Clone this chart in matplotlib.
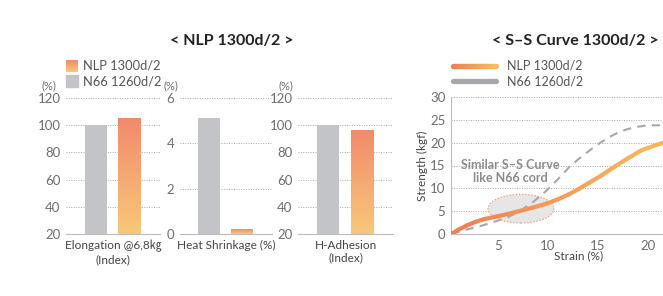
import numpy as np
import matplotlib.pyplot as plt
from matplotlib.collections import LineCollection
from matplotlib.colors import LinearSegmentedColormap
from matplotlib.patches import Ellipse, Rectangle

plt.rcParams['font.family'] = ['Lato', 'Noto Sans CJK KR', 'DejaVu Sans']

# ---- data ----
series = ['NLP 1300d/2', 'N66 1260d/2']
elongation = [100, 105]      # N66, NLP
shrinkage = [5.1, 0.2]
adhesion = [100, 96.5]

strain_nlp = [0.35, 1.0, 1.9, 2.8, 3.7, 5.0, 6.0, 7.1, 8.5, 9.8, 11.0, 12.1,
              13.1, 14.1, 15.4, 16.7, 18.0, 19.4, 21.5]
strength_nlp = [0.0, 0.9, 1.9, 2.7, 3.3, 3.9, 4.4, 5.0, 5.8, 6.6, 7.6, 8.7,
                9.9, 11.2, 12.9, 14.8, 16.6, 18.4, 20.0]
strain_n66 = [0.35, 1.9, 3.5, 4.8, 6.0, 7.1, 8.5, 9.8, 11.0, 12.1, 13.1, 14.1,
              15.1, 16.1, 17.0, 18.0, 19.0, 20.0, 21.5]
strength_n66 = [0.0, 1.0, 1.9, 2.8, 3.7, 4.9, 7.0, 9.4, 12.0, 14.6, 16.5, 18.2,
                19.8, 21.2, 22.2, 23.0, 23.5, 23.8, 23.8]

W, H = 663, 296
GRAY = '#C3C4C8'
TICK = '#6E6E6E'
bar_cmap = LinearSegmentedColormap.from_list('bar', ['#F8C878', '#F28A6D'])
line_cmap = LinearSegmentedColormap.from_list('line', ['#F07E55', '#F9BC5C'])


def px(x0, y0, x1, y1):
    return [x0 / W, 1 - y1 / H, (x1 - x0) / W, (y1 - y0) / H]


fig = plt.figure(figsize=(W / 100, H / 100), dpi=100)

# overlay in pixel coords for titles / legends
lax = fig.add_axes([0, 0, 1, 1])
lax.axis('off')

lax.text(232, 41, '< NLP 1300d/2 >', ha='center', va='center',
         fontsize=11.5, fontweight='bold', color='#222222')
lax.text(575, 41, '< S–S Curve 1300d/2 >', ha='center', va='center',
         fontsize=11.5, fontweight='bold', color='#222222')

# bar legend
lax.imshow(np.linspace(1, 0, 50).reshape(-1, 1), cmap=bar_cmap,
           extent=[66, 78, 72, 60], aspect='auto')
lax.add_patch(Rectangle((66, 75), 12, 12, color=GRAY))
lax.text(83, 66, series[0], va='center', fontsize=9.3, color='#555555')
lax.text(83, 81, series[1], va='center', fontsize=9.3, color='#555555')

# curve legend
xs = np.linspace(453, 496, 30)
segs = [[(xs[i], 66), (xs[i + 1], 66)] for i in range(len(xs) - 1)]
lax.add_collection(LineCollection(segs, colors=line_cmap(np.linspace(0, 1, len(segs))),
                                  lw=3.8, capstyle='round'))
lax.plot([453, 496], [81, 81], color='#A8A8AC', lw=3.8, solid_capstyle='round')
lax.text(507, 66, series[0], va='center', fontsize=9, color='#555555')
lax.text(507, 81, series[1], va='center', fontsize=9, color='#555555')
lax.set_xlim(0, W)
lax.set_ylim(H, 0)


def grad_bar(ax, bar):
    x, y = bar.get_x(), bar.get_y()
    w, h = bar.get_width(), bar.get_height()
    im = ax.imshow(np.linspace(0, 1, 100).reshape(-1, 1), cmap=bar_cmap, origin='lower',
                   extent=[x, x + w, y, y + h], aspect='auto', zorder=3)
    im.set_clip_path(bar)


def bar_panel(rect, vals, ylim, ticks, label, pct_x):
    ax = fig.add_axes(rect)
    ax.patch.set_alpha(0)
    bars = ax.bar([0, 1], [v - ylim[0] for v in vals], bottom=ylim[0], width=0.67,
                  color=[GRAY, 'none'], zorder=3)
    grad_bar(ax, bars[1])
    ax.set_xlim(-0.9, 1.93)
    ax.set_ylim(*ylim)
    ax.set_yticks(ticks)
    ax.set_xticks([])
    ax.grid(axis='y', ls=(0, (1, 1.5)), color='#A8A8A8', lw=0.7)
    for s in ['top', 'right', 'left']:
        ax.spines[s].set_visible(False)
    ax.spines['bottom'].set_color('#BBBBBB')
    ax.tick_params(axis='y', length=0, labelsize=9.5, labelcolor=TICK, pad=4)
    ax.text(0.5, -0.045, label, transform=ax.transAxes, ha='center', va='top',
            fontsize=8.5, color='#444444', linespacing=1.15)
    ax.text(pct_x, 1.05, '(%)', transform=ax.transAxes, ha='center', va='bottom',
            fontsize=8, color=TICK)
    return ax


bar_panel(px(66, 98, 160, 234), elongation, (20, 120), range(20, 121, 20),
          'Elongation @6,8㎏\n(Index)', -0.18)
bar_panel(px(180, 98, 272, 234), shrinkage, (0, 6), [0, 2, 4, 6],
          'Heat Shrinkage (%)', -0.1)
bar_panel(px(298, 98, 393, 234), adhesion, (20, 120), range(20, 121, 20),
          'H-Adhesion\n(Index)', -0.13)

# ---- S-S curve ----
ax = fig.add_axes(px(451, 97, 663, 234))
ax.patch.set_alpha(0)
ax.add_patch(Ellipse((7.3, 5.55), 6.6, 6.3, facecolor='#E6E6E6', edgecolor='#F39A6A',
                     ls=(0, (1, 1.5)), lw=0.9, zorder=2))
ax.plot(strain_n66, strength_n66, color='#A8A8AC', lw=1.5, ls=(0, (4, 3)), zorder=3)
pts = np.column_stack([strain_nlp, strength_nlp])
segs = np.stack([pts[:-1], pts[1:]], axis=1)
ax.add_collection(LineCollection(segs, colors=line_cmap(np.array(strain_nlp[:-1]) / 21.5),
                                 lw=3, capstyle='round', joinstyle='round', zorder=4))
ax.text(6.2, 13.7, 'Similar S–S Curve\nlike N66 cord', ha='center', va='center',
        fontsize=9, fontweight='bold', color='#8C8C8C', linespacing=1.15, zorder=5)
ax.set_xlim(0.3, 21.5)
ax.set_ylim(0, 30)
ax.set_xticks([5, 10, 15, 20])
ax.set_yticks(range(0, 31, 5))
ax.grid(axis='y', ls=(0, (1, 1.5)), color='#A8A8A8', lw=0.7)
for s in ['top', 'right']:
    ax.spines[s].set_visible(False)
ax.spines['left'].set_color('#BBBBBB')
ax.spines['bottom'].set_color('#BBBBBB')
ax.tick_params(length=0, labelsize=9.5, labelcolor=TICK, pad=4)
ax.set_xlabel('Strain (%)', fontsize=8.5, color='#444444')
ax.xaxis.set_label_coords(0.6, -0.12)
ax.set_ylabel('Strength (kgf)', fontsize=8.5, color='#444444')
ax.yaxis.set_label_coords(-0.11, 0.5)

fig.savefig('out.png', dpi=100)
